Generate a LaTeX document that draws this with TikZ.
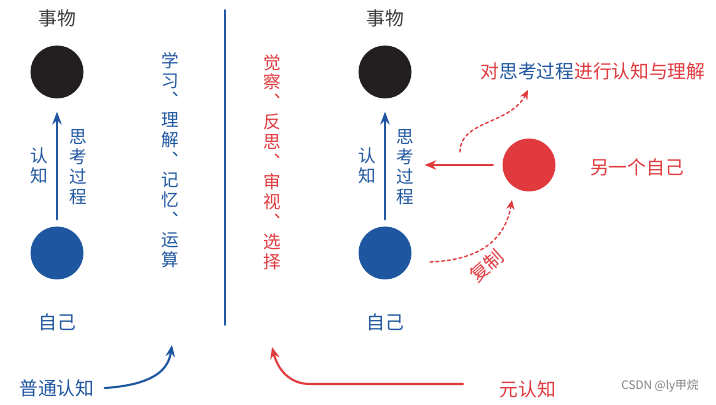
\documentclass[tikz,border=0pt]{standalone}
\usepackage{fontspec}
\setmainfont{Noto Sans CJK SC}
\usetikzlibrary{arrows.meta,positioning}
\definecolor{cblue}{HTML}{1F56A0}
\definecolor{cred}{HTML}{E0393E}
\definecolor{cblack}{HTML}{231F20}
\definecolor{cgray}{HTML}{3A3A3A}
\tikzset{
  every picture/.style={line cap=round,line join=round},
  ball/.style={circle,inner sep=0pt,minimum size=1.59cm},
  word/.style={inner sep=0pt,font=\fontsize{16}{19}\selectfont},
  column/.style={word,align=center,font=\fontsize{15}{17}\selectfont},
  think/.style={-{Stealth[length=11pt,width=8pt]},line width=2.4pt,cblue},
  copyline/.style={-{Stealth[length=8pt,width=7pt]},line width=1.2pt,cred,
    dash pattern=on 2.5pt off 2.5pt},
}
\begin{document}
\begin{tikzpicture}[x=0.03cm,y=-0.03cm]
\useasboundingbox (0,0) rectangle (716,405);
% ordinary cognition
\node[word,cgray] (thing) at (57,18) {事物};
\node[ball,fill=cblack] (obj) at (57,72) {};
\node[ball,fill=cblue] (self) at (57,253) {};
\node[word,cblue] (me) at (57,322) {自己};
\draw[think,shorten <=6pt,shorten >=11pt] (self) -- (obj);
\node[column,cblue] (know) at (39,166) {认\\知};
\node[column,cblue] (proc) at (78,167) {思\\考\\过\\程};
\node[column,cblue] (acts) at (170,160) {学\\习\\︑\\理\\解\\︑\\记\\忆\\︑\\运\\算};
% divider
\coordinate (top) at (225,10);
\coordinate (bot) at (225,325);
\draw[cblue,line width=1.3pt] (top) -- (bot);
% meta cognition
\node[column,cred] (meta) at (272,162) {觉\\察\\︑\\反\\思\\︑\\审\\视\\︑\\选\\择};
\node[word,cgray] (thing2) at (385,18) {事物};
\node[ball,fill=cblack] (obj2) at (385,72) {};
\node[ball,fill=cblue] (self2) at (385,253) {};
\node[word,cblue] (me2) at (385,322) {自己};
\draw[think,shorten <=6pt,shorten >=11pt] (self2) -- (obj2);
\node[column,cblue] (know2) at (367,166) {认\\知};
\node[column,cblue] (proc2) at (405,167) {思\\考\\过\\程};
\node[ball,fill=cred] (other) at (529,165) {};
\node[word,cred] (otherlbl) at (637,167) {另一个自己};
\draw[-{Stealth[length=10pt,width=8pt]},line width=2pt,cred,
  shorten <=8pt,shorten >=9pt] (other) -- (proc2.east |- other);
\node[word,cred] (aim) at (593,71)
  {对\textcolor{cblue}{思考过程}进行认知与理解};
\coordinate (up0) at (460,152);
\coordinate (up1) at (528,90);
\draw[copyline] (up0) .. controls (460,120) and (510,125) .. (up1);
\coordinate (cp0) at (430,262);
\coordinate (cp1) at (512,200);
\draw[copyline] (cp0) .. controls (480,260) and (505,240) .. (cp1);
\node[word,cred,rotate=42] (copy) at (487,266) {复制};
% bottom captions
\node[word,cblue] (plain) at (57,388) {普通认知};
\coordinate (pa) at (172,345);
\draw[-{Stealth[length=10pt,width=8pt]},line width=1.8pt,cblue]
  (plain.east) ++(10,0) .. controls (150,385) and (168,372) .. (pa);
\node[word,cred] (metalbl) at (528,389) {元认知};
\coordinate (ma) at (272,347);
\draw[-{Stealth[length=10pt,width=8pt]},line width=1.8pt,cred]
  (463,384) -- (310,384) .. controls (290,384) and (278,370) .. (ma);
\node[inner sep=0pt,font=\fontsize{10}{12}\selectfont,gray] (mark) at (660,386) {CSDN @ly甲烷};
\end{tikzpicture}
\end{document}
